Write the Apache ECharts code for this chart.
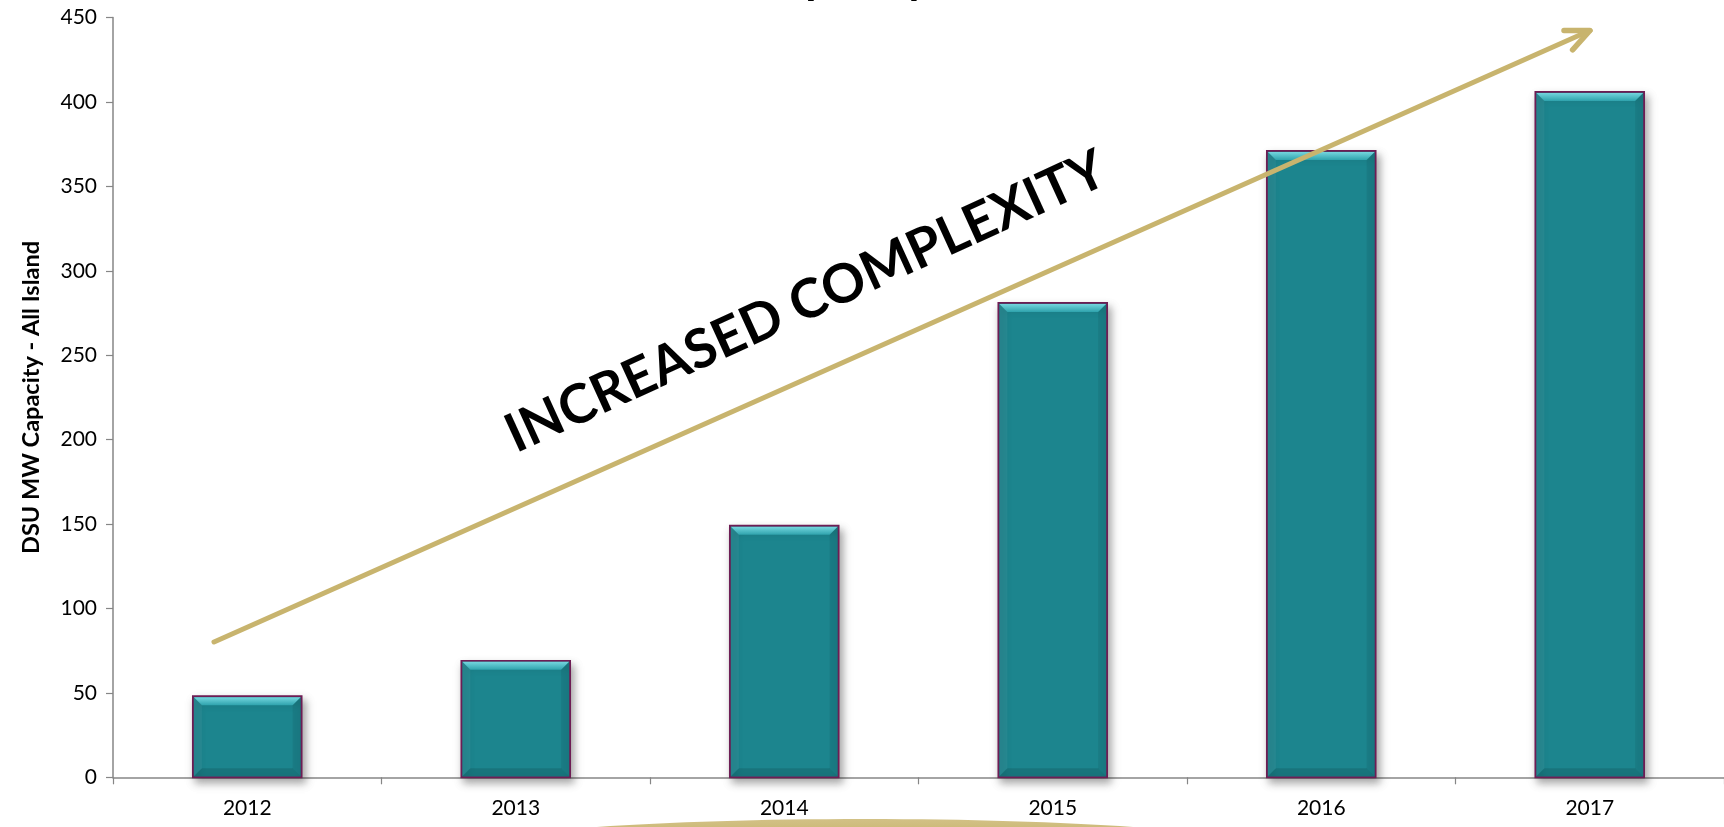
<!DOCTYPE html>
<html>
<head>
<meta charset="utf-8">
<script src="https://cdn.jsdelivr.net/npm/echarts@6/dist/echarts.min.js"></script>
<style>
html,body{margin:0;padding:0;background:#fff;}
#main{width:1724px;height:827px;}
</style>
</head>
<body>
<div id="main"></div>
<script>
var categories = ['2012', '2013', '2014', '2015', '2016', '2017'];
var capacityMW = [48, 69, 149, 281, 371, 406];
var yTicks = {min: 0, max: 450, interval: 50};
var axisName = 'DSU MW Capacity - All Island';
var arrowText = 'INCREASED COMPLEXITY';
var titleText = 'DSU Capacity';

var chart = echarts.init(document.getElementById('main'), null, {renderer: 'canvas'});

var gold = '#C8B46E';

function renderBar(params, api) {
  var idx = api.value(0), v = api.value(1);
  var top = api.coord([idx, v]);
  var bot = api.coord([idx, 0]);
  var bw = api.size([1, 0])[0] * 0.405;
  var x0 = top[0] - bw / 2, x1 = top[0] + bw / 2, y0 = top[1], y1 = bot[1];
  var b = 9;
  return {
    type: 'group',
    children: [
      {type: 'rect', shape: {x: x0, y: y0, width: bw, height: y1 - y0},
       style: {fill: '#1C858E', stroke: '#6E1D54', lineWidth: 1.8,
               shadowBlur: 8, shadowOffsetX: 3, shadowOffsetY: 5, shadowColor: 'rgba(0,0,0,0.35)'}},
      {type: 'polygon', shape: {points: [[x0 + 1, y0 + 1], [x1 - 1, y0 + 1], [x1 - b, y0 + b], [x0 + b, y0 + b]]},
       style: {fill: new echarts.graphic.LinearGradient(0, 0, 0, 1, [
         {offset: 0, color: '#74D6DE'}, {offset: 1, color: '#2FA3AD'}])}},
      {type: 'polygon', shape: {points: [[x0 + 1, y0 + 1], [x0 + b, y0 + b], [x0 + b, y1 - b], [x0 + 1, y1 - 1]]},
       style: {fill: 'rgba(255,255,255,0.05)'}},
      {type: 'polygon', shape: {points: [[x1 - 1, y0 + 1], [x1 - b, y0 + b], [x1 - b, y1 - b], [x1 - 1, y1 - 1]]},
       style: {fill: 'rgba(0,0,0,0.07)'}},
      {type: 'polygon', shape: {points: [[x0 + 1, y1 - 1], [x0 + b, y1 - b], [x1 - b, y1 - b], [x1 - 1, y1 - 1]]},
       style: {fill: 'rgba(0,0,0,0.12)'}}
    ]
  };
}

// arrow geometry (annotation)
var tail = [214, 642], tip = [1590, 30.5];
var ang = Math.atan2(tip[1] - tail[1], tip[0] - tail[0]);
var back = ang + Math.PI, spread = 24 * Math.PI / 180, armLen = 26;
var armA = [tip[0] + armLen * Math.cos(back - spread), tip[1] + armLen * Math.sin(back - spread)];
var armB = [tip[0] + armLen * Math.cos(back + spread), tip[1] + armLen * Math.sin(back + spread)];

var option = {
  animation: false,
  backgroundColor: '#fff',
  grid: {left: 113, right: 0, top: 17.6, bottom: 49.7, containLabel: false},
  xAxis: {
    type: 'category',
    data: categories,
    boundaryGap: true,
    axisLine: {lineStyle: {color: '#868686', width: 1.5}},
    axisTick: {show: true, interval: 0, length: 7, lineStyle: {color: '#868686', width: 1.2}},
    axisLabel: {color: '#000', fontFamily: 'Lato', fontSize: 21, margin: 20, interval: 0}
  },
  yAxis: {
    type: 'value',
    min: yTicks.min, max: yTicks.max, interval: yTicks.interval,
    name: axisName,
    nameLocation: 'middle',
    nameRotate: 90,
    nameGap: 70,
    nameTextStyle: {color: '#000', fontFamily: 'Lato', fontWeight: 'bold', fontSize: 23.5},
    axisLine: {show: true, lineStyle: {color: '#868686', width: 1.5}},
    axisTick: {show: true, length: 7, lineStyle: {color: '#868686', width: 1.2}},
    splitLine: {show: false},
    axisLabel: {color: '#000', fontFamily: 'Lato', fontSize: 21, margin: 16}
  },
  series: [{
    type: 'custom',
    renderItem: renderBar,
    encode: {x: 0, y: 1},
    data: capacityMW.map(function (v, i) { return [i, v]; }),
    z: 2
  }],
  graphic: [
    {type: 'ellipse', z: 0, silent: true,
     shape: {cx: 865, cy: 850, rx: 400, ry: 31},
     style: {fill: new echarts.graphic.LinearGradient(0, 0, 0, 1, [
       {offset: 0, color: '#D2C186'}, {offset: 0.3, color: '#C8B46C'}, {offset: 1, color: '#BFA95E'}])}},
    {type: 'text', z: 10, silent: true, x: 930, y: 1,
     style: {text: titleText, font: 'bold 46px Lato', fill: '#000',
             textAlign: 'right', align: 'right', textVerticalAlign: 'bottom', verticalAlign: 'bottom'}},
    {type: 'line', z: 20, silent: true,
     shape: {x1: tail[0], y1: tail[1], x2: tip[0], y2: tip[1]},
     style: {stroke: gold, lineWidth: 5, lineCap: 'round'}},
    {type: 'polyline', z: 20, silent: true,
     shape: {points: [armA, tip, armB]},
     style: {stroke: gold, lineWidth: 5.5, lineCap: 'round', lineJoin: 'round', fill: null}},
    {type: 'text', z: 30, silent: true, x: 806, y: 302, rotation: 24.5 * Math.PI / 180,
     style: {text: arrowText, font: 'bold 54px Lato', fill: '#000',
             textAlign: 'center', align: 'center', textVerticalAlign: 'middle', verticalAlign: 'middle'}}
  ]
};
chart.setOption(option);
</script>
</body>
</html>
